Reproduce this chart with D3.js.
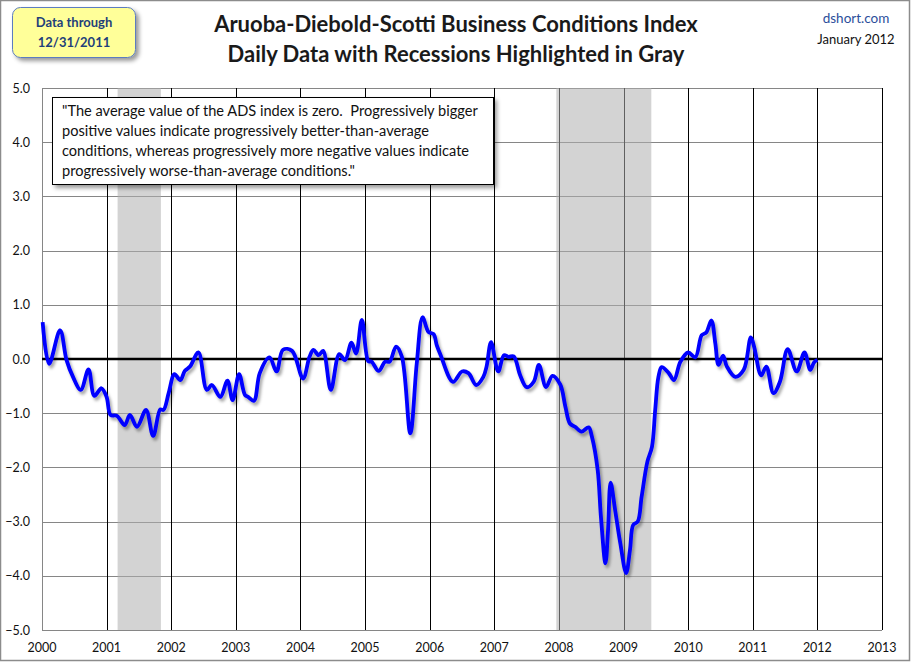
<!DOCTYPE html>
<html><head><meta charset="utf-8">
<script src="https://cdn.jsdelivr.net/npm/d3@7"></script>
<style>html,body{margin:0;padding:0;background:#fff}svg{display:block}</style>
</head><body>
<script>
// ---- DATA ----
const years = [2000,2001,2002,2003,2004,2005,2006,2007,2008,2009,2010,2011,2012,2013];
const yTicks = [5,4,3,2,1,0,-1,-2,-3,-4,-5];
const recessions = [[2001.17, 2001.84], [2007.96, 2009.43]];
const dates = [2000.01,2000.11,2000.28,2000.38,2000.48,2000.60,2000.72,2000.81,2000.92,2001.00,
2001.06,2001.16,2001.28,2001.36,2001.47,2001.61,2001.72,2001.83,2001.88,2001.96,
2002.05,2002.14,2002.21,2002.29,2002.42,2002.55,2002.63,2002.76,2002.87,2002.95,
2003.05,2003.14,2003.19,2003.28,2003.37,2003.52,2003.63,2003.73,2003.87,2004.04,
2004.14,2004.20,2004.28,2004.35,2004.47,2004.60,2004.69,2004.79,2004.86,2004.95,
2005.05,2005.10,2005.21,2005.31,2005.38,2005.48,2005.57,2005.70,2005.80,2005.89,
2005.98,2006.06,2006.11,2006.17,2006.36,2006.50,2006.60,2006.72,2006.83,2006.88,
2006.95,2007.06,2007.15,2007.22,2007.30,2007.40,2007.50,2007.61,2007.69,2007.80,
2007.90,2008.02,2008.10,2008.17,2008.25,2008.35,2008.46,2008.51,2008.60,2008.65,
2008.72,2008.76,2008.80,2008.87,2008.95,2009.04,2009.10,2009.15,2009.22,2009.28,
2009.37,2009.44,2009.49,2009.54,2009.59,2009.70,2009.78,2009.88,2010.00,2010.11,
2010.21,2010.28,2010.36,2010.42,2010.47,2010.54,2010.60,2010.73,2010.86,2010.97,
2011.02,2011.13,2011.21,2011.32,2011.42,2011.54,2011.68,2011.80,2011.89,2011.95,2012.00];
const values = [0.68,-0.09,0.53,-0.02,-0.33,-0.57,-0.19,-0.68,-0.54,-0.70,
-1.03,-1.05,-1.22,-1.03,-1.25,-0.94,-1.42,-0.93,-0.94,-0.63,
-0.28,-0.39,-0.22,-0.14,0.12,-0.57,-0.48,-0.70,-0.40,-0.76,
-0.28,-0.66,-0.70,-0.77,-0.26,0.03,-0.23,0.17,0.15,-0.36,
0.04,0.17,0.07,0.15,-0.57,0.09,-0.02,0.30,0.10,0.72,
-0.04,-0.05,-0.22,-0.05,-0.05,0.23,0.04,-1.37,-0.08,0.77,
0.50,0.46,0.25,0.07,-0.42,-0.23,-0.26,-0.48,-0.33,-0.14,
0.31,-0.23,0.07,0.04,0.05,-0.30,-0.52,-0.42,-0.11,-0.52,
-0.31,-0.47,-0.88,-1.19,-1.25,-1.34,-1.26,-1.43,-2.05,-2.91,
-3.77,-3.16,-2.28,-2.79,-3.40,-3.95,-3.52,-3.06,-3.00,-2.54,
-1.89,-1.62,-0.94,-0.33,-0.15,-0.26,-0.39,-0.05,0.12,0.03,
0.44,0.49,0.71,0.29,-0.11,0.06,-0.14,-0.33,-0.20,0.40,
0.23,-0.30,-0.14,-0.63,-0.42,0.18,-0.23,0.12,-0.20,-0.06,-0.02];
const titleLines = ["Aruoba-Diebold-Scotti Business Conditions Index", "Daily Data with Recessions Highlighted in Gray"];
const badgeLines = ["Data through", "12/31/2011"];
const noteLines = ["\"The average value of the ADS index is zero.  Progressively bigger",
"positive values indicate progressively better-than-average",
"conditions, whereas progressively more negative values indicate",
"progressively worse-than-average conditions.\""];

// ---- CHART ----
const W = 911, H = 662;
const font = "Lato, 'Open Sans', sans-serif";
const svg = d3.select("body").append("svg").attr("width", W).attr("height", H);
const defs = svg.append("defs");
const sh = defs.append("filter").attr("id","shadow").attr("x","-10%").attr("y","-10%").attr("width","130%").attr("height","130%");
sh.append("feDropShadow").attr("dx",2).attr("dy",3).attr("stdDeviation",1.5).attr("flood-color","#000").attr("flood-opacity",0.35);
const sh2 = defs.append("filter").attr("id","boxshadow").attr("x","-10%").attr("y","-10%").attr("width","130%").attr("height","130%");
sh2.append("feDropShadow").attr("dx",3).attr("dy",3).attr("stdDeviation",2).attr("flood-color","#000").attr("flood-opacity",0.4);

svg.append("rect").attr("x",0.5).attr("y",0.5).attr("width",909).attr("height",660)
  .attr("fill","#fff").attr("stroke","#8c8c8c").attr("stroke-width",1.5);

const x = d3.scaleLinear().domain([2000, 2013]).range([42, 882]);
const y = d3.scaleLinear().domain([-5, 5]).range([630, 88]);

// horizontal gridlines
svg.append("g").selectAll("line").data(yTicks).join("line")
  .attr("x1", x(2000)).attr("x2", x(2013))
  .attr("y1", d => Math.round(y(d)) + 0.5).attr("y2", d => Math.round(y(d)) + 0.5)
  .attr("stroke", "#868686").attr("stroke-width", 1);
// vertical year lines
svg.append("g").selectAll("line").data(years.slice(1)).join("line")
  .attr("x1", d => Math.round(x(d)) + 0.5).attr("x2", d => Math.round(x(d)) + 0.5)
  .attr("y1", y(5)).attr("y2", y(-5))
  .attr("stroke", "#000").attr("stroke-width", 1);
// left axis line
svg.append("line").attr("x1", x(2000)+0.5).attr("x2", x(2000)+0.5).attr("y1", y(5)).attr("y2", y(-5))
  .attr("stroke","#868686");
// recessions
svg.append("g").selectAll("rect").data(recessions).join("rect")
  .attr("x", d => x(d[0])).attr("width", d => x(d[1]) - x(d[0]))
  .attr("y", y(5)).attr("height", y(-5) - y(5))
  .attr("fill", "#afafaf").attr("fill-opacity", 0.55);
// bottom axis line
svg.append("line").attr("x1", x(2000)).attr("x2", x(2013)).attr("y1", Math.round(y(-5))+0.5).attr("y2", Math.round(y(-5))+0.5)
  .attr("stroke","#868686");
// zero line
svg.append("line").attr("x1", x(2000)).attr("x2", x(2013)).attr("y1", y(0)).attr("y2", y(0))
  .attr("stroke","#000").attr("stroke-width",2.5);

// axes labels
svg.append("g").selectAll("text").data(yTicks).join("text")
  .attr("x", 30).attr("y", d => y(d) + 4.5).attr("text-anchor","end")
  .attr("font-family", font).attr("font-size", 12.5).attr("fill","#111")
  .text(d => d3.format(".1f")(d));
svg.append("g").selectAll("text").data(years).join("text")
  .attr("x", d => x(d)).attr("y", 652).attr("text-anchor","middle")
  .attr("font-family", font).attr("font-size", 12.5).attr("fill","#111")
  .text(d => d);

// data line
const pts = dates.map((d,i) => [d, values[i]]);
svg.append("path").datum(pts)
  .attr("d", d3.line().x(d => x(d[0])).y(d => y(d[1])).curve(d3.curveCatmullRom.alpha(0.5)))
  .attr("fill","none").attr("stroke","#0000ff").attr("stroke-width",3.8)
  .attr("stroke-linejoin","round").attr("filter","url(#shadow)");

// note box
const note = svg.append("g");
note.append("rect").attr("x",52.5).attr("y",97.5).attr("width",441).attr("height",87)
  .attr("fill","#fff").attr("stroke","#000").attr("stroke-width",1).attr("filter","url(#boxshadow)");
note.selectAll("text").data(noteLines).join("text")
  .attr("x", 62).attr("y", (d,i) => 116 + i*20)
  .attr("font-family", font).attr("font-size", 14.6).attr("fill","#111")
  .attr("xml:space","preserve").style("white-space","pre")
  .text(d => d);

// title
svg.selectAll("text.title").data(titleLines).join("text").attr("class","title")
  .attr("x", 456).attr("y", (d,i) => 32 + i*30).attr("text-anchor","middle")
  .attr("font-family", font).attr("font-weight","bold").attr("font-size", 22).attr("fill","#1a1a1a")
  .text(d => d);

// badge
const b = svg.append("g");
b.append("rect").attr("x",12.5).attr("y",7.5).attr("width",123).attr("height",50).attr("rx",8)
  .attr("fill","#ffff99").attr("stroke","#5b7cc0").attr("stroke-width",1).attr("filter","url(#boxshadow)");
b.selectAll("text").data(badgeLines).join("text")
  .attr("x", 74).attr("y", (d,i) => 27 + i*20).attr("text-anchor","middle")
  .attr("font-family", font).attr("font-weight","bold").attr("font-size", 13).attr("fill","#1f3f7a")
  .text(d => d);

// top right
svg.append("text").attr("x", 856).attr("y", 23).attr("text-anchor","middle")
  .attr("font-family", font).attr("font-size", 13.5).attr("fill","#2b4e9b").text("dshort.com");
svg.append("text").attr("x", 856).attr("y", 44).attr("text-anchor","middle")
  .attr("font-family", font).attr("font-size", 13).attr("fill","#111").text("January 2012");
</script>
</body></html>
